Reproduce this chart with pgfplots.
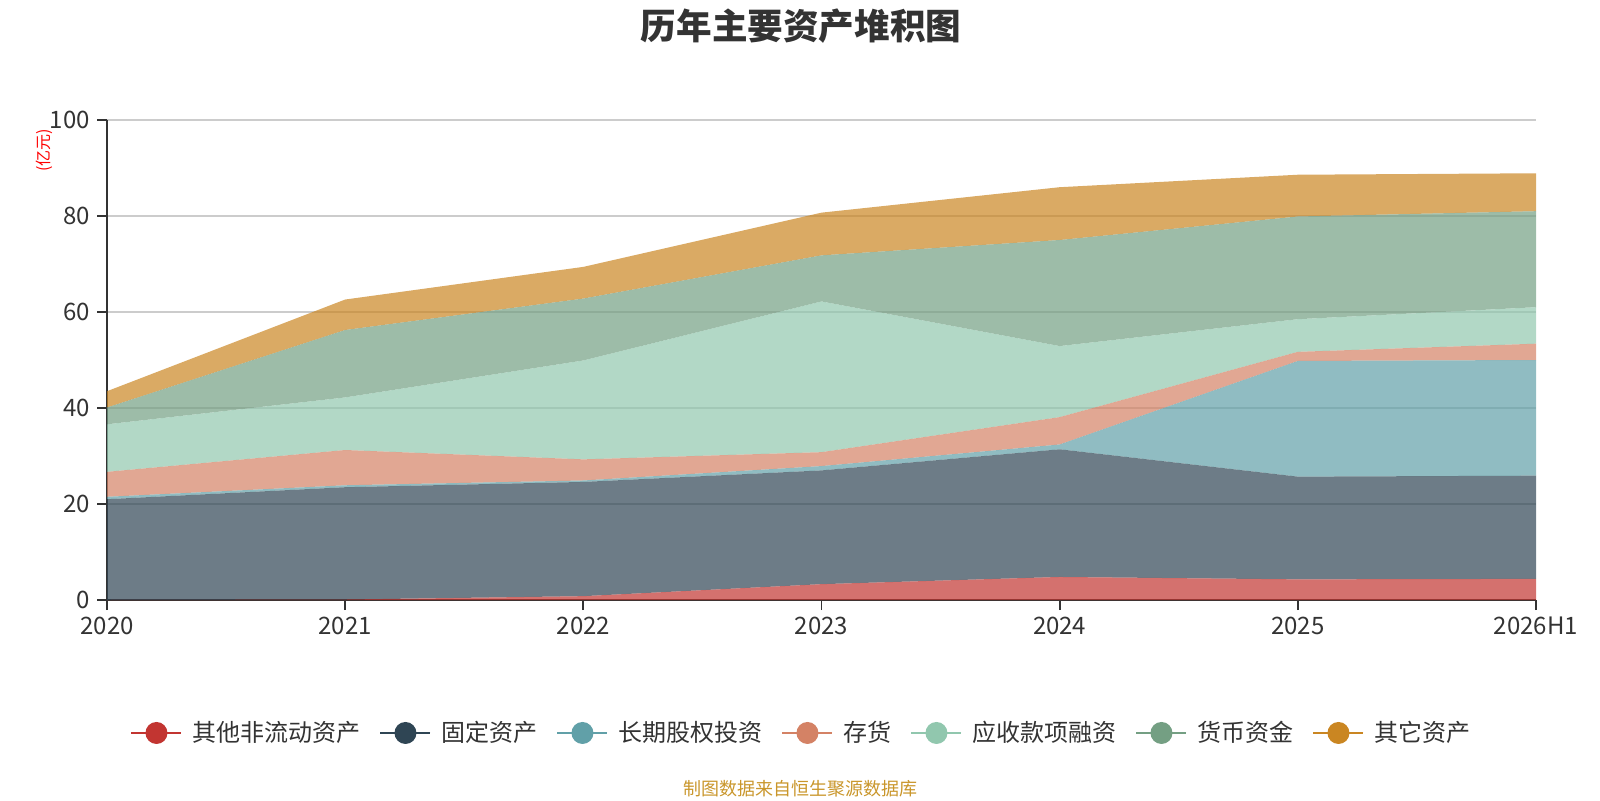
\documentclass[border=0pt]{standalone}
\usepackage{fontspec}
\setmainfont{Noto Sans CJK SC}
\usepackage{pgfplots}
\pgfplotsset{compat=1.18}
\definecolor{c1}{HTML}{C23531}
\definecolor{c2}{HTML}{2F4554}
\definecolor{c3}{HTML}{61A0A8}
\definecolor{c4}{HTML}{D48265}
\definecolor{c5}{HTML}{91C7AE}
\definecolor{c6}{HTML}{749F83}
\definecolor{c7}{HTML}{CA8622}
\definecolor{textc}{HTML}{333333}
\definecolor{gridc}{HTML}{CCCCCC}
\definecolor{footc}{HTML}{C9962B}
\newcommand{\legimg}[1]{\draw[#1,line width=1pt,draw opacity=1] (0pt,0pt)--(25pt,0pt); \fill[#1,fill opacity=1] (12.5pt,0pt) circle (5.5pt);}
\begin{document}
\begin{tikzpicture}[x=1pt,y=1pt]
\path[use as bounding box] (0,0) rectangle (800,400);
\begin{axis}[at={(53.5pt,100pt)}, anchor=south west, scale only axis,
  width=714.5pt, height=240pt,
  xmin=0, xmax=6, ymin=0, ymax=100,
  xtick={0,...,6}, xticklabels={2020,2021,2022,2023,2024,2025,2026H1},
  ytick={0,20,...,100},
  axis x line*=bottom, axis y line*=left,
  ymajorgrids, grid style={color=gridc, line width=0.6pt},
  axis line style={color=textc, line width=0.9pt},
  tick style={color=textc, line width=0.9pt},
  tick align=outside, major tick length=5pt,
  ticklabel style={font=\fontsize{12}{14}\selectfont, color=textc},
  /pgf/number format/assume math mode=true,
  stack plots=y,
  legend columns=7,
  legend style={draw=none, fill=none, at={(0.4867,-0.277)}, anchor=center,
    font=\fontsize{12}{14}\selectfont, text=textc,
    /tikz/every odd column/.append style={column sep=3pt},
    /tikz/every even column/.append style={column sep=7.5pt}},
]
\addplot[fill=c1, fill opacity=0.7, draw=none, legend image code/.code={\legimg{c1}}]
  coordinates {(0,0) (1,0.1) (2,0.8) (3,3.3) (4,4.8) (5,4.3) (6,4.4)} \closedcycle;
\addlegendentry{其他非流动资产}
\addplot[fill=c2, fill opacity=0.7, draw=none, legend image code/.code={\legimg{c2}}]
  coordinates {(0,21.0) (1,23.4) (2,23.8) (3,23.7) (4,26.6) (5,21.4) (6,21.5)} \closedcycle;
\addlegendentry{固定资产}
\addplot[fill=c3, fill opacity=0.7, draw=none, legend image code/.code={\legimg{c3}}]
  coordinates {(0,0.5) (1,0.4) (2,0.3) (3,0.9) (4,1.0) (5,24.1) (6,24.1)} \closedcycle;
\addlegendentry{长期股权投资}
\addplot[fill=c4, fill opacity=0.7, draw=none, legend image code/.code={\legimg{c4}}]
  coordinates {(0,5.2) (1,7.35) (2,4.4) (3,2.9) (4,5.7) (5,1.9) (6,3.4)} \closedcycle;
\addlegendentry{存货}
\addplot[fill=c5, fill opacity=0.7, draw=none, legend image code/.code={\legimg{c5}}]
  coordinates {(0,9.9) (1,10.95) (2,20.6) (3,31.4) (4,14.8) (5,6.8) (6,7.6)} \closedcycle;
\addlegendentry{应收款项融资}
\addplot[fill=c6, fill opacity=0.7, draw=none, legend image code/.code={\legimg{c6}}]
  coordinates {(0,3.5) (1,14.05) (2,12.9) (3,9.6) (4,22.1) (5,21.4) (6,20.0)} \closedcycle;
\addlegendentry{货币资金}
\addplot[fill=c7, fill opacity=0.7, draw=none, legend image code/.code={\legimg{c7}}]
  coordinates {(0,3.4) (1,6.35) (2,6.6) (3,8.9) (4,11.0) (5,8.7) (6,7.9)} \closedcycle;
\addlegendentry{其它资产}
\end{axis}
\node[font=\fontsize{17.8}{20}\selectfont\bfseries, text=textc] at (400.5,387) {历年主要资产堆积图};
\node[font=\fontsize{8}{9}\selectfont, text=red, rotate=90] at (22,325) {(亿元)};
\node[font=\fontsize{9}{10}\selectfont, text=footc] at (400,5.5) {制图数据来自恒生聚源数据库};
\end{tikzpicture}
\end{document}
